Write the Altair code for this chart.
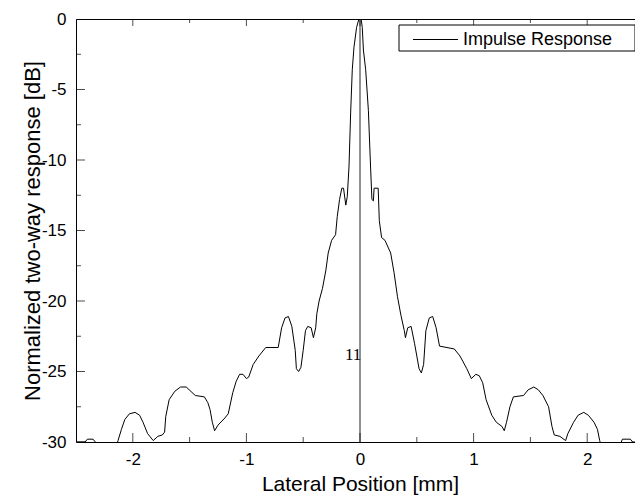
import altair as alt
import pandas as pd

# Lateral position [mm] and normalized two-way response [dB]
pos_mm = [
    -2.50, -2.42, -2.40, -2.35, -2.33, -2.25, -2.15, -2.13, -2.10, -2.07, -2.03,
    -1.98, -1.94, -1.91, -1.87, -1.82, -1.78, -1.74, -1.72, -1.71, -1.68, -1.63,
    -1.58, -1.53, -1.45, -1.37, -1.34, -1.32, -1.30, -1.28, -1.25, -1.19, -1.16,
    -1.12, -1.09, -1.06, -1.03, -1.00, -0.98, -0.94, -0.89, -0.83, -0.72, -0.69,
    -0.66, -0.63, -0.60, -0.57, -0.56, -0.54, -0.52, -0.50, -0.48, -0.46, -0.43,
    -0.41, -0.39, -0.38, -0.36, -0.33, -0.30, -0.28, -0.25, -0.215, -0.20, -0.18,
    -0.16, -0.145, -0.125, -0.112, -0.097, -0.082, -0.068, -0.053, -0.03, -0.01,
    0.00, 0.01, 0.02, 0.03, 0.05, 0.074, 0.094, 0.105, 0.118, 0.124, 0.16, 0.17,
    0.19, 0.22, 0.27, 0.30, 0.33, 0.36, 0.39, 0.40, 0.42, 0.45, 0.48, 0.50, 0.52,
    0.54, 0.56, 0.58, 0.61, 0.64, 0.67, 0.70, 0.83, 0.88, 0.94, 0.98, 1.02, 1.05,
    1.08, 1.11, 1.16, 1.20, 1.25, 1.27, 1.29, 1.32, 1.35, 1.44, 1.48, 1.53, 1.57,
    1.61, 1.66, 1.69, 1.71, 1.76, 1.81, 1.83, 1.88, 1.92, 1.97, 2.01, 2.06, 2.09,
    2.11, 2.13, 2.22, 2.30, 2.31, 2.38, 2.40, 2.50,
]
response_db = [
    -30.0, -30.0, -29.8, -29.8, -30.0, -31.5, -30.5, -29.9, -29.1, -28.4, -28.0,
    -27.9, -28.1, -28.6, -29.4, -29.9, -29.6, -29.5, -29.3, -28.2, -27.0, -26.4,
    -26.1, -26.1, -26.7, -26.8, -27.2, -27.7, -28.6, -29.2, -28.8, -28.3, -28.0,
    -26.5, -25.7, -25.2, -25.2, -25.5, -25.4, -24.5, -23.9, -23.3, -23.3, -21.9,
    -21.2, -21.1, -21.8, -23.5, -24.8, -25.0, -24.7, -23.5, -22.1, -21.8, -21.9,
    -22.6, -21.9, -20.9, -20.0, -19.1, -17.8, -16.6, -15.7, -15.3, -14.0, -12.8,
    -12.0, -12.0, -13.2, -12.6, -10.5, -6.6, -3.6, -2.0, -0.6, 0.0,
    0.0, 0.0, -0.6, -2.2, -3.6, -6.5, -10.7, -12.8, -12.9, -12.0, -12.0, -14.3,
    -15.5, -15.7, -16.6, -18.0, -19.7, -21.0, -22.1, -22.6, -21.9, -21.8, -23.0, -23.9, -24.8,
    -25.1, -24.5, -22.1, -21.2, -21.1, -21.9, -23.2, -23.4, -23.9, -24.8, -25.5, -25.2, -25.3,
    -25.8, -27.0, -28.1, -28.6, -28.9, -29.2, -28.6, -27.5, -26.8, -26.7, -26.3, -26.1, -26.3,
    -26.7, -27.5, -28.9, -29.5, -29.6, -29.9, -29.4, -28.6, -28.1, -27.9, -28.1, -28.6, -29.1,
    -29.9, -30.5, -31.5, -30.0, -29.8, -29.8, -30.0, -30.0,
]
series_name = "Impulse Response"

x_major = [-2, -1, 0, 1, 2]
x_minor = [-1.5, -0.5, 0.5, 1.5]
y_major = [0, -5, -10, -15, -20, -25, -30]
y_minor = [-2.5, -7.5, -12.5, -17.5, -22.5, -27.5]

annot_text = ["11"]
annot_x = [0.012]
annot_y = [-23.85]

FONT = "Liberation Sans"

df = pd.DataFrame({"x": pos_mm, "y": response_db, "series": series_name})

xscale = alt.Scale(domain=[-2.5, 2.5], nice=False, zero=False)
yscale = alt.Scale(domain=[-30, 0], nice=False, zero=False)

line = alt.Chart(df).mark_line(strokeWidth=1, clip=True, color="black").encode(
    x=alt.X("x:Q", scale=xscale,
            axis=alt.Axis(title="Lateral Position [mm]", values=x_major,
                          labelExpr="'' + datum.value", ticks=False, domain=False,
                          grid=False, labelPadding=9, titlePadding=6,
                          labelFontSize=17, titleFontSize=21,
                          labelFont=FONT, titleFont=FONT, titleFontWeight="normal",
                          labelColor="black", titleColor="black")),
    y=alt.Y("y:Q", scale=yscale,
            axis=alt.Axis(title="Normalized two-way response [dB]", values=y_major,
                          labelExpr="'' + datum.value", ticks=False, domain=False,
                          grid=False, labelPadding=10, titleX=-32,
                          labelFontSize=17, titleFontSize=22,
                          labelFont=FONT, titleFont=FONT, titleFontWeight="normal",
                          labelColor="black", titleColor="black")),
    detail="series:N",
)

zero_line = alt.Chart(pd.DataFrame({"x": [0]})).mark_rule(color="#222", strokeWidth=1).encode(
    x="x:Q", y=alt.datum(-30), y2=alt.datum(0)
)

txt = alt.Chart(pd.DataFrame({"x": annot_x, "y": annot_y, "t": annot_text})).mark_text(
    font="Liberation Serif", fontSize=17, align="right", baseline="middle", color="black"
).encode(x="x:Q", y="y:Q", text="t:N")

def vticks(vals, at, size):
    return alt.Chart(pd.DataFrame({"v": vals})).mark_tick(
        orient="vertical", size=size, thickness=1, color="black", clip=True
    ).encode(x="v:Q", y=alt.datum(at))

def hticks(vals, at, size):
    return alt.Chart(pd.DataFrame({"v": vals})).mark_tick(
        orient="horizontal", size=size, thickness=1, color="black", clip=True
    ).encode(y="v:Q", x=alt.datum(at))

ticks = [
    vticks(x_major, -30, 18), vticks(x_minor, -30, 10),
    vticks(x_major, 0, 14), vticks(x_minor, 0, 8),
    hticks(y_major, -2.5, 18), hticks(y_minor, -2.5, 10),
    hticks(y_major, 2.5, 16), hticks(y_minor, 2.5, 8),
]

# legend box (decoration, placed inside the top-right corner of the plot)
leg = pd.DataFrame({"label": [series_name]})
leg_box = alt.Chart(leg).mark_rect(fill="white", stroke="black", strokeWidth=1).encode(
    x=alt.value(323), x2=alt.value(559), y=alt.value(6), y2=alt.value(32)
)
leg_line = alt.Chart(leg).mark_rule(color="black", strokeWidth=1).encode(
    x=alt.value(337), x2=alt.value(382), y=alt.value(20.5)
)
leg_text = alt.Chart(leg).mark_text(
    font=FONT, fontSize=18, align="left", baseline="middle", color="black"
).encode(x=alt.value(387), y=alt.value(20.5), text="label:N")

chart = alt.layer(line, zero_line, txt, *ticks, leg_box, leg_line, leg_text).properties(
    width=568, height=423,
    autosize=alt.AutoSizeParams(type="none"),
    padding={"left": 68, "top": 11, "right": -9, "bottom": 54},
    background="white",
).configure_view(stroke="black", strokeWidth=1)

chart.save("out.html", embed_options={"renderer": "svg", "actions": False})
